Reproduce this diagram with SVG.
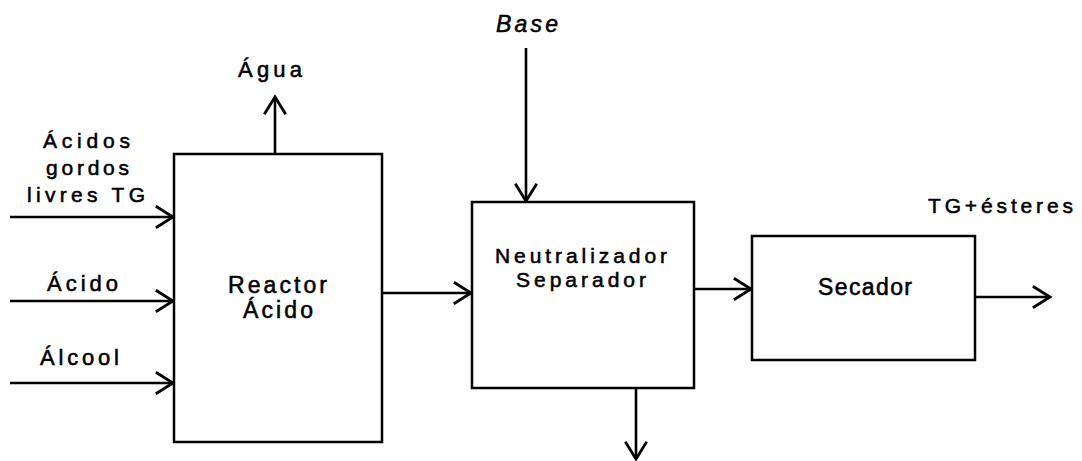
<svg xmlns="http://www.w3.org/2000/svg" width="1082" height="461" viewBox="0 0 1082 461">
  <style>
    .box { fill: #ffffff; stroke: #000000; stroke-width: 2.5; }
    .flow { fill: none; stroke: #000000; stroke-width: 2.6; marker-end: url(#chevron); }
    .lbl { font-family: "Liberation Sans", Arial, sans-serif; font-size: 21px; fill: #000000; stroke: #000000; stroke-width: 0.55; }
    .big { font-size: 23px; }
    .mid { font-size: 22px; }
    .sm { font-size: 21px; }
    .it { font-style: italic; }
  </style>
  <defs>
    <marker id="chevron" markerUnits="userSpaceOnUse" markerWidth="30" markerHeight="30" viewBox="-20 -14 24 28" refX="0" refY="0" orient="auto">
      <path d="M-16,-10 L0,0 L-16,10" fill="none" stroke="#000000" stroke-width="2.6" stroke-linejoin="miter"/>
    </marker>
  </defs>
  <rect width="1082" height="461" fill="#ffffff"/>

  <!-- process flows -->
  <g id="connectors">
    <line class="flow" x1="10" y1="217" x2="173" y2="217"/>
    <line class="flow" x1="10" y1="301" x2="173" y2="301"/>
    <line class="flow" x1="10" y1="383" x2="173" y2="383"/>
    <line class="flow" x1="275" y1="154" x2="275" y2="97"/>
    <line class="flow" x1="382" y1="293" x2="471" y2="293"/>
    <line class="flow" x1="526" y1="48" x2="526" y2="201"/>
    <line class="flow" x1="636" y1="388" x2="636" y2="459"/>
    <line class="flow" x1="694" y1="289" x2="751" y2="289"/>
    <line class="flow" x1="975" y1="297" x2="1050" y2="297"/>
  </g>

  <!-- stream labels -->
  <g id="stream-labels">
    <text class="lbl" x="43" y="148" textLength="87" lengthAdjust="spacing">Ácidos</text>
    <text class="lbl" x="46" y="175" textLength="83" lengthAdjust="spacing">gordos</text>
    <text class="lbl" x="27" y="202" textLength="118" lengthAdjust="spacing">livres TG</text>
    <text class="lbl mid" x="47" y="291" textLength="71" lengthAdjust="spacing">Ácido</text>
    <text class="lbl mid" x="40" y="365" textLength="79" lengthAdjust="spacing">Álcool</text>
    <text class="lbl mid" x="238" y="77" textLength="64" lengthAdjust="spacing">Água</text>
    <text class="lbl big it" x="496" y="32" textLength="62" lengthAdjust="spacing">Base</text>
    <text class="lbl sm" x="928" y="213" textLength="145" lengthAdjust="spacing">TG+ésteres</text>
  </g>

  <g id="reactor">
    <rect class="box" x="174" y="154" width="208" height="288"/>
    <text class="lbl big" x="228" y="293" textLength="99" lengthAdjust="spacing">Reactor</text>
    <text class="lbl big" x="243" y="318" textLength="70" lengthAdjust="spacing">Ácido</text>
  </g>

  <g id="neutralizer">
    <rect class="box" x="472" y="202" width="222" height="186"/>
    <text class="lbl sm" x="495" y="263" textLength="172" lengthAdjust="spacing">Neutralizador</text>
    <text class="lbl sm" x="516" y="287" textLength="130" lengthAdjust="spacing">Separador</text>
  </g>

  <g id="dryer">
    <rect class="box" x="752" y="236" width="223" height="124"/>
    <text class="lbl big" x="818" y="295" textLength="94" lengthAdjust="spacing">Secador</text>
  </g>
</svg>
